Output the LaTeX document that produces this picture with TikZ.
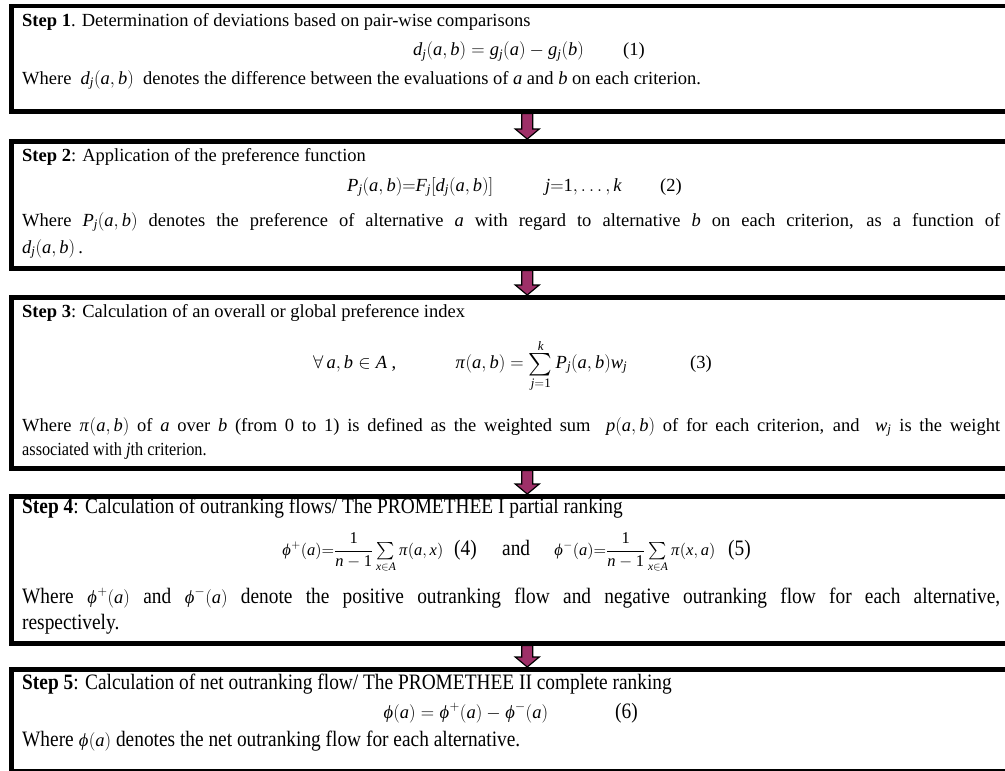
\RequirePackage{fix-cm}
\documentclass[tikz,border=0pt]{standalone}
\usepackage{exscale}
\usepackage{graphicx}
\usepackage{mathspec}
\setmainfont{Liberation Serif}
\setmathsfont(Digits,Latin,Greek){Liberation Serif}
\newfontfamily\cond[FakeStretch=0.88]{Liberation Serif}
\usetikzlibrary{calc}
\definecolor{arrowfill}{RGB}{158,48,104}
\newcommand\mth[1]{{\fontsize{18.5}{22}\selectfont$#1$}}
\newcommand\medsum{\mathop{\raisebox{-3pt}{\scalebox{1.3}{$\sum$}}}\limits}
\tikzset{
  box/.style={draw, line width=4.5pt, minimum width=1032pt, anchor=north west, inner sep=0pt},
  txt/.style={anchor=base west, inner sep=0pt, font=\fontsize{18.5}{22}\selectfont},
  mtxt/.style={anchor=base west, inner sep=0pt, font=\fontsize{16.5}{20}\selectfont},
  ctxt/.style={anchor=base west, inner sep=0pt, font=\fontsize{22}{26}\cond},
  stxt/.style={anchor=base west, inner sep=0pt, font=\fontsize{18.5}{22}\cond},
  flow/.style={fill=arrowfill, draw=black, line width=1.2pt, line join=miter}
}
\newcommand\flowarrow[2]{\filldraw[flow] ($(#1.south)+(-5.5,0)$) -- ($(#2.north)+(-5.5,-10)$) -- ($(#2.north)+(-12,-10)$) -- (#2.north) -- ($(#2.north)+(12,-10)$) -- ($(#2.north)+(5.5,-10)$) -- ($(#1.south)+(5.5,0)$) -- cycle;}
\begin{document}
\begin{tikzpicture}[x=1pt,y=-1pt]
\useasboundingbox (0,0) rectangle (1005,771);
\clip (0,0) rectangle (1005,771);
% boxes
\node[box, minimum height=105.5pt] (b1) at (9,3.5) {};
\node[box, minimum height=127pt] (b2) at (9,139) {};
\node[box, minimum height=171pt] (b3) at (9,295) {};
\node[box, minimum height=147pt] (b4) at (9,494) {};
\node[box, minimum height=101.5pt] (b5) at (9,667) {};
% arrows
\flowarrow{b1}{b2}
\flowarrow{b2}{b3}
\flowarrow{b3}{b4}
\flowarrow{b4}{b5}
% box 1
\node[txt] (s1) at (22,27) {\textbf{Step 1}. Determination of deviations based on pair-wise comparisons};
\node[txt] (f1) at (413,56) {$d_j(a,b) = g_j(a) - g_j(b)$};
\node[txt] (n1) at (623,56) {(1)};
\node[txt] (w1) at (22,84) {Where \ $d_j(a,b)$ \ denotes the difference between the evaluations of $a$ and $b$ on each criterion.};
% box 2
\node[txt] (s2) at (22,161) {\textbf{Step 2}: Application of the preference function};
\node[txt] (f2) at (347,191) {$P_j(a,b){=}F_j[d_j(a,b)]$};
\node[txt] (g2) at (545,191) {$j{=}1,\ldots,k$};
\node[txt] (n2) at (660,191) {(2)};
\node[txt] (w2) at (22,226) {\makebox[978pt][s]{Where $P_j(a,b)$ denotes the preference of alternative $a$ with regard to alternative $b$ on each criterion, as a function of}};
\node[txt] (v2) at (22,253) {$d_j(a,b)$\,.};
% box 3
\node[txt] (s3) at (22,317) {\textbf{Step 3}: Calculation of an overall or global preference index};
\node[txt] (q3) at (313,368) {$\forall\, a,b\in A$ ,};
\node[txt] (f3) at (455,368) {$\pi(a,b) = \medsum_{j=1}^{k} P_j(a,b)w_j$};
\node[txt] (n3) at (690,368) {(3)};
\node[txt] (w3) at (22,431) {\makebox[978pt][s]{Where $\pi(a,b)$ of $a$ over $b$ (from 0 to 1) is defined as the weighted sum \ $p(a,b)$ of for each criterion, and \ $w_j$ is the weight}};
\node[stxt] (v3) at (22,455) {associated with \textit{j}th criterion.};
% box 4
\node[ctxt] (s4) at (22,513) {\textbf{Step 4}: Calculation of outranking flows/ The PROMETHEE I partial ranking};
\node[mtxt] (f4) at (282,555) {$\varphi^{+}(a) {=} \displaystyle\frac{1}{n-1}\textstyle\sum\limits_{x\in A}\pi(a,x)$};
\node[ctxt] (n4) at (454,555) {(4)};
\node[ctxt] (a4) at (502,555) {and};
\node[mtxt] (h4) at (554,555) {$\varphi^{-}(a) {=} \displaystyle\frac{1}{n-1}\textstyle\sum\limits_{x\in A}\pi(x,a)$};
\node[ctxt] (m4) at (728,555) {(5)};
\node[ctxt] (w4) at (22,603) {\makebox[978pt][s]{Where \mth{\varphi^{+}(a)} and \mth{\varphi^{-}(a)} denote the positive outranking flow and negative outranking flow for each alternative,}};
\node[ctxt] (v4) at (22,629) {respectively.};
% box 5
\node[ctxt] (s5) at (22,689) {\textbf{Step 5}: Calculation of net outranking flow/ The PROMETHEE II complete ranking};
\node[txt] (f5) at (383,718) {$\varphi(a) = \varphi^{+}(a) - \varphi^{-}(a)$};
\node[ctxt] (n5) at (615,718) {(6)};
\node[ctxt] (w5) at (22,746) {Where \mth{\varphi(a)} denotes the net outranking flow for each alternative.};
\end{tikzpicture}
\end{document}
